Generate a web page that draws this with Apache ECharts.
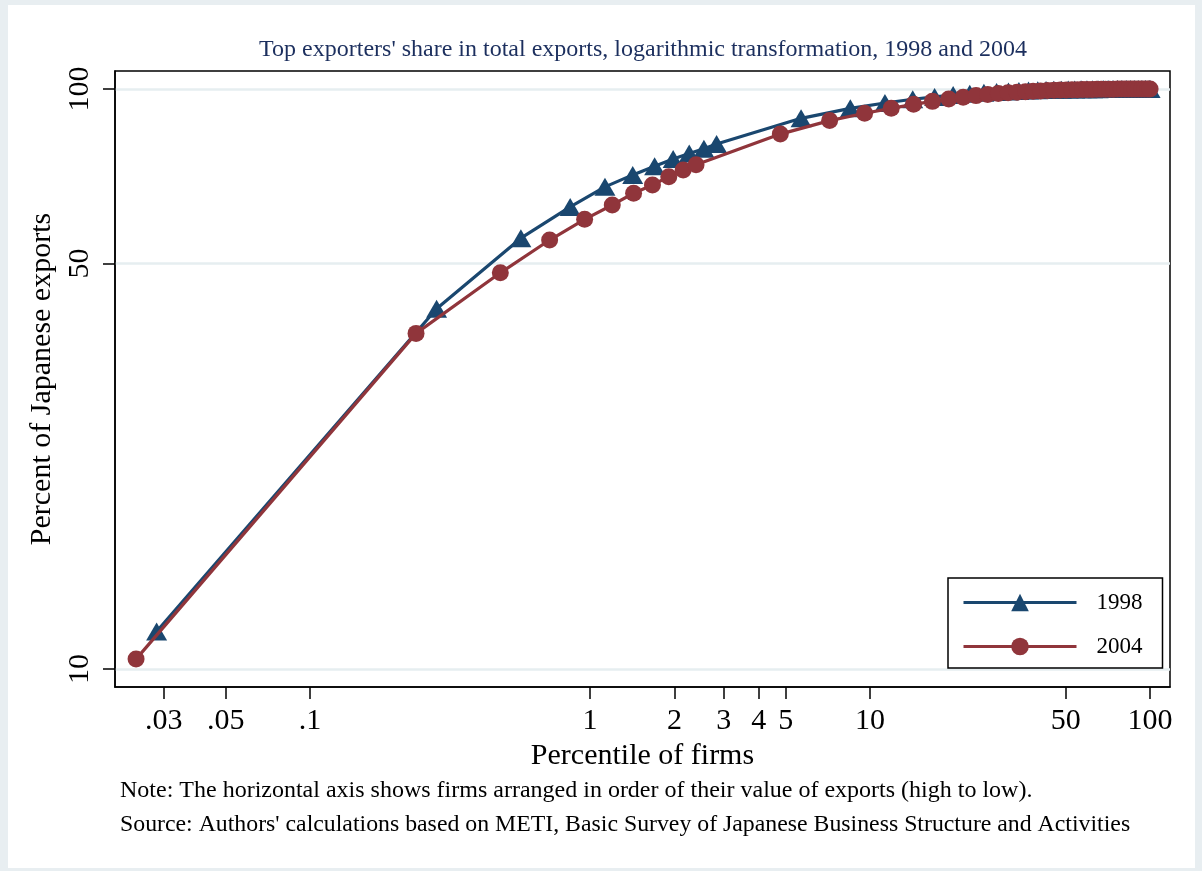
<!DOCTYPE html>
<html>
<head>
<meta charset="utf-8">
<script src="https://cdn.jsdelivr.net/npm/echarts@6/dist/echarts.min.js"></script>
<style>
  html, body { margin: 0; padding: 0; background: #ffffff; }
  #chart { position: absolute; left: 0; top: 0; width: 1202px; height: 871px; }
  #frame { position: absolute; left: 0; top: 0; width: 1202px; height: 871px; box-sizing: border-box;
           border-style: solid; border-color: #e8eef1; border-width: 5px 7px 3px 8px; pointer-events: none; }
</style>
</head>
<body>
<div id="chart"></div>
<div id="frame"></div>
<script>
// Percentile of firms (ranked by export value, high to low) and cumulative export share (%)
const pct1998 = [0.0283, 0.283, 0.566, 0.849, 1.13, 1.42, 1.70, 1.98, 2.26, 2.55, 2.83,
  5.67, 8.50, 11.3, 14.2, 17.0, 19.8, 22.7, 25.5, 28.3, 31.2, 34.0, 36.8, 39.7, 42.5, 45.3,
  48.2, 51.0, 53.8, 56.7, 59.5, 62.3, 65.2, 68.0, 70.8, 73.7, 76.5, 79.3, 82.2, 85.0, 87.8,
  90.7, 93.5, 96.3, 99.2, 100];
const share1998 = [11.6, 41.8, 55.3, 62.6, 67.8, 71.1, 73.6, 75.7, 77.4, 78.9, 80.4,
  89.0, 92.6, 94.6, 96.0, 96.9, 97.6, 98.1, 98.5, 98.8, 99.05, 99.25, 99.4, 99.5, 99.6, 99.67,
  99.73, 99.78, 99.82, 99.86, 99.89, 99.91, 99.93, 99.95, 99.96, 99.97, 99.975, 99.98, 99.985, 99.99, 99.992,
  99.995, 99.997, 99.998, 99.999, 100];

const pct2004 = [0.0239, 0.239, 0.478, 0.717, 0.956, 1.20, 1.43, 1.67, 1.91, 2.15, 2.39,
  4.78, 7.17, 9.56, 11.9, 14.3, 16.7, 19.1, 21.5, 23.9, 26.3, 28.7, 31.1, 33.5, 35.9, 38.2,
  40.6, 43.0, 45.4, 47.8, 50.2, 52.6, 55.0, 57.4, 59.7, 62.1, 64.5, 66.9, 69.3, 71.7, 74.1,
  76.5, 78.9, 81.3, 83.6, 86.0, 88.4, 90.8, 93.2, 95.6, 98.0, 100];
const share2004 = [10.4, 37.9, 48.2, 54.9, 59.6, 63.1, 66.1, 68.3, 70.6, 72.5, 74.0,
  83.6, 88.2, 90.8, 92.6, 94.1, 95.2, 96.1, 96.8, 97.4, 97.85, 98.2, 98.5, 98.75, 98.95, 99.1,
  99.25, 99.37, 99.47, 99.55, 99.62, 99.68, 99.73, 99.77, 99.81, 99.84, 99.87, 99.89, 99.91, 99.93, 99.94,
  99.95, 99.96, 99.97, 99.975, 99.98, 99.985, 99.99, 99.993, 99.996, 99.998, 100];

// Axis ticks
const xTickValues = [0.03, 0.05, 0.1, 1, 2, 3, 4, 5, 10, 50, 100];
const xTickLabels = ['.03', '.05', '.1', '1', '2', '3', '4', '5', '10', '50', '100'];
const yTickValues = [10, 50, 100];
const yTickLabels = ['10', '50', '100'];

const seriesNames = ['1998', '2004'];
const titleText = "Top exporters' share in total exports, logarithmic transformation, 1998 and 2004";
const noteText = 'Note: The horizontal axis shows firms arranged in order of their value of exports (high to low).';
const sourceText = "Source: Authors' calculations based on METI, Basic Survey of Japanese Business Structure and Activities";

const SERIF = '"Liberation Serif", "Times New Roman", serif';
const NAVY = '#1a476f';
const MAROON = '#90353b';

function zip(xs, ys) { return xs.map((x, i) => [x, ys[i]]); }
function labelFor(values, labels) {
  return function (v) {
    for (let i = 0; i < values.length; i++) {
      if (Math.abs(values[i] - v) / values[i] < 1e-6) return labels[i];
    }
    return '';
  };
}

const chart = echarts.init(document.getElementById('chart'), null, { renderer: 'canvas' });

chart.setOption({
  animation: false,
  backgroundColor: '#ffffff',
  grid: {
    left: 115, right: 32, top: 71, bottom: 184,
    show: true, borderColor: '#000000', borderWidth: 1.5, backgroundColor: 'transparent'
  },
  graphic: [
    { type: 'text', x: 643, y: 50,
      style: { text: titleText, fill: '#1c2f5e', fontFamily: SERIF, fontSize: 24, align: 'center', verticalAlign: 'middle' } },
    { type: 'text', x: 120, y: 791,
      style: { text: noteText, fill: '#000000', fontFamily: SERIF, fontSize: 24, align: 'left', verticalAlign: 'middle' } },
    { type: 'text', x: 120, y: 825,
      style: { text: sourceText, fill: '#000000', fontFamily: SERIF, fontSize: 23.8, align: 'left', verticalAlign: 'middle' } }
  ],
  legend: {
    orient: 'vertical',
    left: 948, top: 578,
    backgroundColor: '#ffffff',
    borderColor: '#000000', borderWidth: 1.5, borderRadius: 0,
    padding: [13, 20, 10, 14],
    itemWidth: 113, itemHeight: 22, itemGap: 21,
    lineStyle: { width: 3 },
    textStyle: { fontFamily: SERIF, fontSize: 23, color: '#000000', padding: [0, 0, 0, 15] },
    data: seriesNames
  },
  xAxis: {
    type: 'log', logBase: 10,
    min: 0.0201, max: 117.8,
    name: 'Percentile of firms',
    nameLocation: 'middle', nameGap: 49,
    nameTextStyle: { fontFamily: SERIF, fontSize: 30, color: '#000000' },
    axisLine: { show: true, lineStyle: { color: '#000000', width: 1.5 } },
    axisTick: { show: true, length: 12, lineStyle: { color: '#000000', width: 1.5 }, customValues: xTickValues },
    axisLabel: { show: true, margin: 19, fontFamily: SERIF, fontSize: 30, color: '#000000',
                 customValues: xTickValues, formatter: labelFor(xTickValues, xTickLabels) },
    splitLine: { show: false },
    minorTick: { show: false }, minorSplitLine: { show: false }
  },
  yAxis: {
    type: 'log', logBase: 10,
    min: 9.31, max: 107.4,
    name: 'Percent of Japanese exports',
    nameLocation: 'middle', nameGap: 55,
    nameTextStyle: { fontFamily: SERIF, fontSize: 30, color: '#000000' },
    axisLine: { show: true, lineStyle: { color: '#000000', width: 1.5 } },
    axisTick: { show: true, length: 12, lineStyle: { color: '#000000', width: 1.5 }, customValues: yTickValues },
    axisLabel: { show: true, margin: 20, rotate: 90, fontFamily: SERIF, fontSize: 30, color: '#000000',
                 customValues: yTickValues, formatter: labelFor(yTickValues, yTickLabels) },
    splitLine: { show: true, lineStyle: { color: '#e6eef0', width: 2.5 } },
    minorTick: { show: false }, minorSplitLine: { show: false }
  },
  series: [
    {
      name: seriesNames[0], type: 'line',
      data: zip(pct1998, share1998),
      symbol: 'triangle', symbolSize: [21, 18], showAllSymbol: true,
      itemStyle: { color: NAVY },
      lineStyle: { color: NAVY, width: 3.2 },
      z: 2
    },
    {
      name: seriesNames[1], type: 'line',
      data: zip(pct2004, share2004),
      symbol: 'circle', symbolSize: 17, showAllSymbol: true,
      itemStyle: { color: MAROON },
      lineStyle: { color: MAROON, width: 3.2 },
      z: 3
    }
  ]
});
</script>
</body>
</html>
